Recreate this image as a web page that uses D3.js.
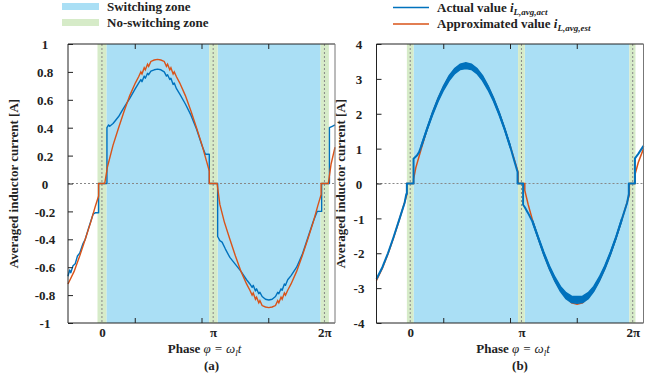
<!DOCTYPE html>
<html>
<head>
<meta charset="utf-8">
<script src="https://cdnjs.cloudflare.com/ajax/libs/d3/7.8.5/d3.min.js"></script>
<style>
body { margin: 0; background: #fff; }
svg text { font-family: "Liberation Serif", "DejaVu Serif", serif; font-weight: bold; fill: #222; }
</style>
</head>
<body>
<svg id="chart" width="663" height="379"></svg>
<script>
var svg = d3.select('#chart');

var zoneBlue = '#AADFF5';
var zoneGreen = '#D6EBC8';
var colAct = '#0072BD';
var colEst = '#D95319';

// phase values are in units of pi
var phaseTicks = [0, 1, 2];
var phaseLabels = ['0', '\u03C0', '2\u03C0'];
var timeTicks = [0.6, 1.2, 1.8]; // 5, 10, 15 ms after window start

// ---- panel (a)
var aXDomain = [-0.305, 2.095];
var aYTicks = [-1, -0.8, -0.6, -0.4, -0.2, 0, 0.2, 0.4, 0.6, 0.8, 1];
var aZones = [[-0.04, 0.04], [0.965, 1.04], [1.965, 2.04]];
var aAct = [[-0.305,-0.665],[-0.29,-0.62],[-0.28,-0.64],[-0.26,-0.59],[-0.24,-0.575],[-0.22,-0.52],[-0.2,-0.5],
  [-0.17,-0.43],[-0.15,-0.4],[-0.12,-0.32],[-0.1,-0.27],[-0.08,-0.22],[-0.06,-0.21],[-0.03,-0.21],[-0.03,0],
  [0.045,0],[0.045,0.4],[0.06,0.42],[0.07,0.41],[0.1,0.43],[0.12,0.45],[0.15,0.48],[0.18,0.52],[0.21,0.56],
  [0.25,0.61],[0.3,0.68],[0.33,0.72],[0.35,0.745],[0.36,0.73],[0.38,0.77],[0.39,0.755],[0.41,0.79],[0.42,0.78],
  [0.44,0.805],[0.47,0.815],[0.5,0.82],[0.53,0.815],[0.56,0.8],[0.58,0.77],[0.59,0.78],[0.61,0.745],[0.62,0.755],
  [0.64,0.71],[0.65,0.72],[0.67,0.68],[0.7,0.64],[0.75,0.57],[0.8,0.49],[0.85,0.39],[0.9,0.27],[0.93,0.21],
  [0.965,0.21],[0.965,0],[1.04,0],[1.04,-0.38],[1.06,-0.41],[1.08,-0.42],[1.11,-0.47],[1.15,-0.53],[1.2,-0.58],
  [1.25,-0.63],[1.3,-0.69],[1.33,-0.72],[1.35,-0.745],[1.36,-0.73],[1.38,-0.77],[1.39,-0.755],[1.41,-0.79],
  [1.42,-0.78],[1.44,-0.81],[1.47,-0.83],[1.5,-0.835],[1.53,-0.83],[1.56,-0.81],[1.58,-0.78],[1.59,-0.79],
  [1.61,-0.755],[1.62,-0.765],[1.64,-0.72],[1.65,-0.73],[1.67,-0.69],[1.7,-0.66],[1.75,-0.6],[1.8,-0.51],
  [1.85,-0.39],[1.9,-0.27],[1.935,-0.2],[1.975,-0.2],[1.975,0],[2.045,0],[2.045,0.4],[2.07,0.41],[2.095,0.42]];
var aEst = [[-0.305,-0.72],[-0.25,-0.63],[-0.2,-0.52],[-0.15,-0.4],[-0.1,-0.275],[-0.06,-0.165],[-0.03,-0.09],
  [-0.03,0],[0.025,0],[0.05,0.12],[0.1,0.275],[0.15,0.4],[0.2,0.52],[0.25,0.63],[0.3,0.72],[0.33,0.765],
  [0.35,0.8],[0.36,0.785],[0.38,0.83],[0.39,0.815],[0.41,0.855],[0.42,0.84],[0.44,0.875],[0.47,0.885],[0.5,0.89],
  [0.53,0.885],[0.56,0.875],[0.58,0.84],[0.59,0.855],[0.61,0.815],[0.62,0.83],[0.64,0.785],[0.65,0.8],[0.67,0.765],
  [0.7,0.72],[0.75,0.63],[0.8,0.52],[0.85,0.4],[0.9,0.275],[0.94,0.16],[0.965,0.09],[0.965,0],[1.035,0],
  [1.06,-0.15],[1.1,-0.275],[1.15,-0.4],[1.2,-0.52],[1.25,-0.63],[1.3,-0.72],[1.33,-0.765],[1.35,-0.8],
  [1.36,-0.785],[1.38,-0.83],[1.39,-0.815],[1.41,-0.855],[1.42,-0.84],[1.44,-0.875],[1.47,-0.885],[1.5,-0.89],
  [1.53,-0.885],[1.56,-0.875],[1.58,-0.84],[1.59,-0.855],[1.61,-0.815],[1.62,-0.83],[1.64,-0.785],[1.65,-0.8],
  [1.67,-0.765],[1.7,-0.72],[1.75,-0.63],[1.8,-0.52],[1.85,-0.4],[1.9,-0.275],[1.94,-0.16],[1.97,-0.08],
  [1.97,0],[2.035,0],[2.06,0.14],[2.095,0.26]];

// ---- panel (b)
var bXDomain = [-0.303, 2.097];
var bYTicks = [-4, -3, -2, -1, 0, 1, 2, 3, 4];
var bZones = [[-0.03, 0.03], [0.97, 1.03], [1.97, 2.025]];
var bAct = [[-0.303,-2.74],[-0.25,-2.4],[-0.2,-2.0],[-0.15,-1.54],[-0.1,-1.05],[-0.05,-0.55],[-0.035,-0.3],
  [-0.03,-0.3],[-0.03,0],[0.03,0],[0.03,0.71],[0.06,0.8],[0.08,0.9],[0.1,1.08],[0.15,1.55],[0.2,2.0],[0.25,2.4],
  [0.3,2.74],[0.35,3.02],[0.4,3.22],[0.45,3.34],[0.5,3.38],[0.55,3.34],[0.6,3.22],[0.65,3.02],[0.7,2.74],
  [0.75,2.4],[0.8,2.0],[0.85,1.55],[0.9,1.05],[0.94,0.6],[0.965,0.33],[0.965,0],[1.015,0],[1.015,-0.61],
  [1.03,-0.68],[1.06,-0.85],[1.1,-1.1],[1.15,-1.55],[1.2,-2.0],[1.25,-2.4],[1.3,-2.74],[1.35,-3.02],[1.4,-3.22],
  [1.45,-3.32],[1.5,-3.34],[1.55,-3.32],[1.6,-3.22],[1.65,-3.02],[1.7,-2.74],[1.75,-2.4],[1.8,-2.0],[1.85,-1.55],
  [1.9,-1.05],[1.95,-0.55],[1.965,-0.3],[1.965,0],[2.02,0],[2.02,0.72],[2.05,0.85],[2.097,1.08]];
var bBand = [[0.1,1.05,1.1],[0.15,1.52,1.58],[0.2,1.96,2.04],[0.25,2.35,2.45],[0.3,2.68,2.8],[0.35,2.95,3.09],
  [0.4,3.15,3.3],[0.45,3.27,3.42],[0.5,3.3,3.46],[0.55,3.27,3.42],[0.6,3.15,3.3],[0.65,2.95,3.09],[0.7,2.68,2.8],
  [0.75,2.35,2.45],[0.8,1.96,2.04],[0.85,1.52,1.58],[0.9,1.02,1.08]];
var bBandNeg = [[1.1,-1.12,-1.06],[1.15,-1.58,-1.52],[1.2,-2.04,-1.96],[1.25,-2.45,-2.35],[1.3,-2.8,-2.68],
  [1.35,-3.09,-2.95],[1.4,-3.3,-3.13],[1.45,-3.41,-3.23],[1.5,-3.43,-3.24],[1.55,-3.41,-3.23],[1.6,-3.3,-3.13],
  [1.65,-3.09,-2.95],[1.7,-2.8,-2.68],[1.75,-2.45,-2.35],[1.8,-2.04,-1.96],[1.85,-1.58,-1.52],[1.9,-1.08,-1.02]];
var bEst = [[-0.303,-2.78],[-0.25,-2.43],[-0.2,-2.02],[-0.15,-1.56],[-0.1,-1.06],[-0.05,-0.54],[-0.03,-0.32],
  [-0.03,0],[0.03,0],[0.03,0.12],[0.05,0.45],[0.1,1.0],[0.15,1.53],[0.2,2.02],[0.25,2.43],[0.3,2.78],[0.35,3.06],
  [0.4,3.27],[0.45,3.4],[0.5,3.44],[0.55,3.4],[0.6,3.27],[0.65,3.06],[0.7,2.78],[0.75,2.43],[0.8,2.02],
  [0.85,1.56],[0.9,1.06],[0.95,0.54],[0.97,0.32],[0.97,0],[1.03,0],[1.03,-0.2],[1.06,-0.6],[1.1,-1.06],
  [1.15,-1.56],[1.2,-2.02],[1.25,-2.43],[1.3,-2.78],[1.35,-3.06],[1.4,-3.27],[1.45,-3.42],[1.5,-3.46],
  [1.55,-3.42],[1.6,-3.27],[1.65,-3.06],[1.7,-2.78],[1.75,-2.43],[1.8,-2.02],[1.85,-1.56],[1.9,-1.06],
  [1.95,-0.54],[1.97,-0.32],[1.97,0],[2.02,0],[2.02,0.25],[2.05,0.6],[2.097,1.0]];

var plotTop = 44, plotBottom = 323;

function draw(p) {
    var x = d3.scaleLinear().domain(p.xDomain).range([p.left, p.right]);
    var y = d3.scaleLinear().domain([p.yTicks[0], p.yTicks[p.yTicks.length - 1]]).range([plotBottom, plotTop]);
    var g = svg.append('g');

    // switching zones sit between the no-switching zones
    for (var i = 0; i < p.zones.length - 1; i++) {
        g.append('rect').attr('x', x(p.zones[i][1])).attr('y', plotTop)
            .attr('width', x(p.zones[i + 1][0]) - x(p.zones[i][1])).attr('height', plotBottom - plotTop)
            .attr('fill', zoneBlue);
    }
    g.selectAll('.nz').data(p.zones).enter().append('rect')
        .attr('x', function (d) { return x(d[0]); }).attr('y', plotTop)
        .attr('width', function (d) { return x(d[1]) - x(d[0]); }).attr('height', plotBottom - plotTop)
        .attr('fill', zoneGreen);
    g.selectAll('.vl').data(phaseTicks).enter().append('line')
        .attr('x1', function (d) { return x(d); }).attr('x2', function (d) { return x(d); })
        .attr('y1', plotTop).attr('y2', plotBottom)
        .attr('stroke', '#888').attr('stroke-width', 1).attr('stroke-dasharray', '2,2');
    g.append('line').attr('x1', p.left).attr('x2', p.right).attr('y1', y(0)).attr('y2', y(0))
        .attr('stroke', '#888').attr('stroke-width', 1).attr('stroke-dasharray', '2,2');

    var line = d3.line().x(function (d) { return x(d[0]); }).y(function (d) { return y(d[1]); });
    var area = d3.area().x(function (d) { return x(d[0]); })
        .y0(function (d) { return y(d[1]); }).y1(function (d) { return y(d[2]); });

    if (p.estFirst) {
        g.append('path').attr('d', line(p.est)).attr('fill', 'none').attr('stroke', colEst).attr('stroke-width', 1.5);
    }
    p.bands.forEach(function (b) {
        g.append('path').attr('d', area(b)).attr('fill', colAct).attr('stroke', colAct).attr('stroke-width', 1.5);
    });
    g.append('path').attr('d', line(p.act)).attr('fill', 'none').attr('stroke', colAct)
        .attr('stroke-width', p.actWidth).attr('stroke-linejoin', 'round');
    if (!p.estFirst) {
        g.append('path').attr('d', line(p.est)).attr('fill', 'none').attr('stroke', colEst).attr('stroke-width', 1.4);
    }

    // axes
    var tickPos = timeTicks.map(function (t) { return p.xDomain[0] + t; });
    var ax = g.append('g').attr('transform', 'translate(0,' + plotBottom + ')')
        .call(d3.axisBottom(x).tickValues(tickPos).tickSize(-5).tickSizeOuter(0).tickFormat(''));
    var axT = g.append('g').attr('transform', 'translate(0,' + plotTop + ')')
        .call(d3.axisTop(x).tickValues(tickPos).tickSize(-5).tickSizeOuter(0).tickFormat(''));
    var axY = g.append('g').attr('transform', 'translate(' + p.left + ',0)')
        .call(d3.axisLeft(y).tickValues(p.yTicks).tickSize(-5).tickSizeOuter(0)
            .tickFormat(function (d) { return String(d); }));
    axY.selectAll('text').attr('text-anchor', 'middle').attr('x', p.labelX - p.left).attr('dy', '0.36em')
        .style('font-size', '13px').attr('fill', '#222');
    var axP = g.append('g').attr('transform', 'translate(0,' + plotBottom + ')')
        .call(d3.axisBottom(x).tickValues(phaseTicks).tickSize(0).tickPadding(5)
            .tickFormat(function (d, i) { return phaseLabels[i]; }));
    axP.select('.domain').remove();
    axP.selectAll('text').style('font-size', '13px').attr('fill', '#222');
    [ax, axT, axY].forEach(function (a) {
        a.select('.domain').remove();
        a.selectAll('line').attr('stroke', '#222');
    });
    g.append('line').attr('x1', p.left).attr('x2', p.left).attr('y1', plotTop).attr('y2', plotBottom).attr('stroke', '#222');
    g.append('line').attr('x1', p.left).attr('x2', p.right).attr('y1', plotBottom).attr('y2', plotBottom).attr('stroke', '#222');
    g.append('line').attr('x1', p.left).attr('x2', p.right).attr('y1', plotTop).attr('y2', plotTop).attr('stroke', '#222');
    g.append('line').attr('x1', p.right).attr('x2', p.right).attr('y1', plotTop).attr('y2', plotBottom).attr('stroke', '#777');

    // axis titles
    g.append('text').attr('transform', 'translate(' + p.yTitleX + ',' + ((plotTop + plotBottom) / 2) + ') rotate(-90)')
        .attr('text-anchor', 'middle').style('font-size', '13px').text('Averaged inductor current [A]');
    var xt = g.append('text').attr('x', (p.left + p.right) / 2 + 3).attr('y', 353)
        .attr('text-anchor', 'middle').style('font-size', '13px');
    xt.append('tspan').text('Phase ');
    xt.append('tspan').style('font-style', 'italic').style('font-weight', 'normal').text('\u03C6 = \u03C9');
    xt.append('tspan').style('font-style', 'italic').style('font-weight', 'normal').style('font-size', '9px')
        .attr('dy', 3).text('l');
    xt.append('tspan').style('font-style', 'italic').style('font-weight', 'normal').attr('dy', -3).text('t');
    g.append('text').attr('x', (p.left + p.right) / 2 + 10).attr('y', 370).attr('text-anchor', 'middle')
        .style('font-size', '13px').text(p.tag);
}

draw({ xDomain: aXDomain, left: 68, right: 335, yTicks: aYTicks, zones: aZones, act: aAct, est: aEst,
    bands: [], actWidth: 1.4, estFirst: false, labelX: 45, yTitleX: 18, tag: '(a)' });
draw({ xDomain: bXDomain, left: 376.5, right: 643.5, yTicks: bYTicks, zones: bZones, act: bAct, est: bEst,
    bands: [bBand, bBandNeg], actWidth: 2, estFirst: true, labelX: 359, yTitleX: 345, tag: '(b)' });

// legends
var lg = svg.append('g');
lg.append('rect').attr('x', 62).attr('y', 3).attr('width', 37).attr('height', 7).attr('fill', zoneBlue);
lg.append('rect').attr('x', 62).attr('y', 19).attr('width', 37).attr('height', 7).attr('fill', zoneGreen);
lg.append('text').attr('x', 107).attr('y', 11).style('font-size', '13px').text('Switching zone');
lg.append('text').attr('x', 107).attr('y', 27).style('font-size', '13px').text('No-switching zone');

var legLines = [{ c: colAct, y: 7.5, name: 'Actual value ', sub: 'L,avg,act' },
                { c: colEst, y: 24, name: 'Approximated value ', sub: 'L,avg,est' }];
legLines.forEach(function (l) {
    lg.append('line').attr('x1', 393).attr('x2', 429).attr('y1', l.y).attr('y2', l.y)
        .attr('stroke', l.c).attr('stroke-width', 1.5);
    var t = lg.append('text').attr('x', 437).attr('y', l.y + 4).style('font-size', '13px');
    t.append('tspan').text(l.name);
    t.append('tspan').style('font-style', 'italic').text('i');
    t.append('tspan').style('font-style', 'italic').style('font-size', '9px').attr('dy', 3).text(l.sub);
});
</script>
</body>
</html>
